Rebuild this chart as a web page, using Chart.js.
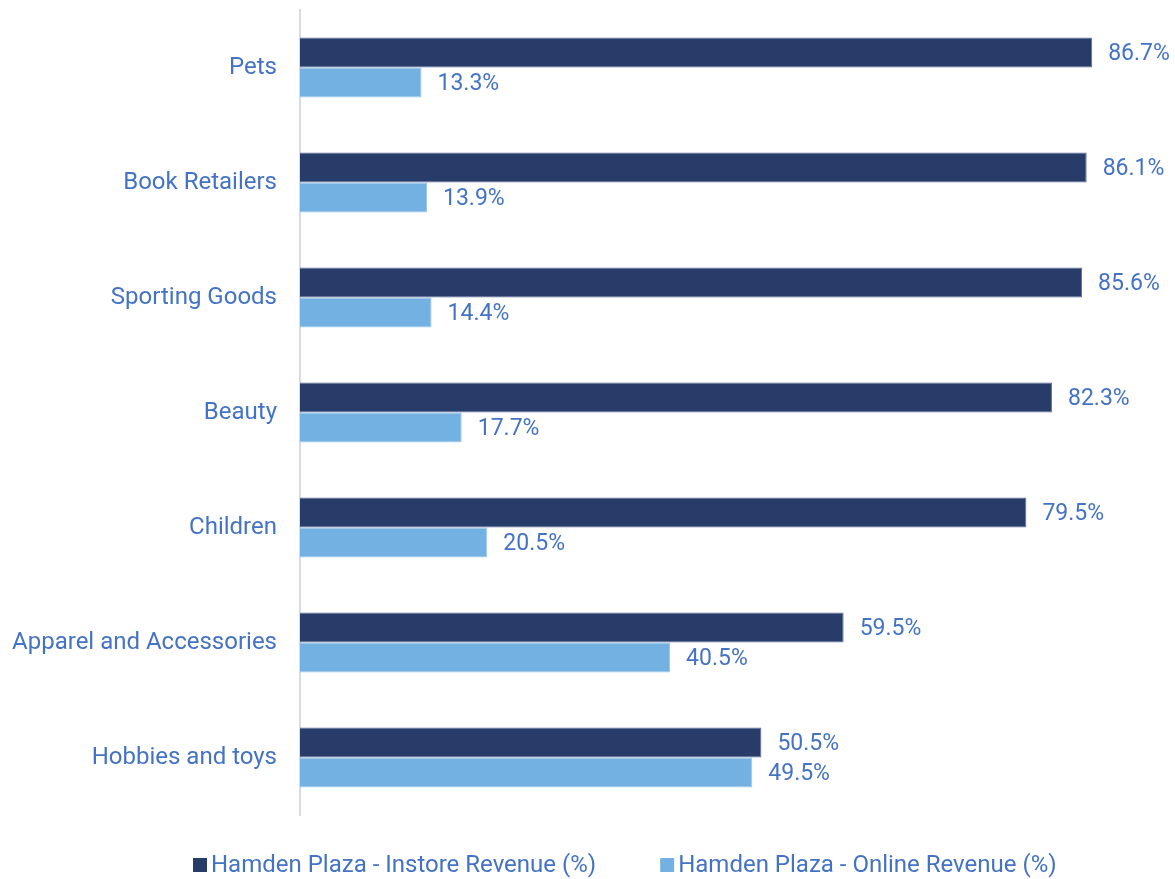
<!DOCTYPE html>
<html>
<head>
<meta charset="utf-8">
<script src="https://cdn.jsdelivr.net/npm/chart.js@4/dist/chart.umd.min.js"></script>
<style>
  html, body { margin: 0; padding: 0; background: #ffffff; }
  #wrap { width: 1175px; height: 879px; position: relative; }
</style>
</head>
<body>
<div id="wrap"><canvas id="c"></canvas></div>
<script>
const categories = ['Pets', 'Book Retailers', 'Sporting Goods', 'Beauty', 'Children', 'Apparel and Accessories', 'Hobbies and toys'];
const instoreRevenue = [86.7, 86.1, 85.6, 82.3, 79.5, 59.5, 50.5];
const onlineRevenue = [13.3, 13.9, 14.4, 17.7, 20.5, 40.5, 49.5];
const seriesNames = ['Hamden Plaza - Instore Revenue (%)', 'Hamden Plaza - Online Revenue (%)'];

const TEXT_COLOR = '#4472C4';
const FONT = 'Roboto, "Liberation Sans", sans-serif';

// Percent labels at the end of each bar
const valueLabels = {
  id: 'valueLabels',
  afterDatasetsDraw(chart) {
    const ctx = chart.ctx;
    ctx.save();
    ctx.font = '23px ' + FONT;
    ctx.fillStyle = TEXT_COLOR;
    ctx.textAlign = 'left';
    ctx.textBaseline = 'middle';
    chart.data.datasets.forEach((ds, i) => {
      chart.getDatasetMeta(i).data.forEach((bar, j) => {
        ctx.fillText(ds.data[j].toFixed(1) + '%', bar.x + 16, bar.y + 2);
      });
    });
    ctx.restore();
  }
};

// Legend row under the plot
const bottomLegend = {
  id: 'bottomLegend',
  afterDraw(chart) {
    const ctx = chart.ctx;
    ctx.save();
    ctx.font = '24px ' + FONT;
    ctx.textBaseline = 'middle';
    const box = 14, gapText = 4, gapItems = 64;
    let x = 193;
    const y = 865;
    chart.data.datasets.forEach(ds => {
      ctx.fillStyle = ds.backgroundColor;
      ctx.fillRect(x, y - box / 2, box, box);
      ctx.fillStyle = TEXT_COLOR;
      ctx.fillText(ds.label, x + box + gapText, y + 1);
      x += box + gapText + ctx.measureText(ds.label).width + gapItems;
    });
    ctx.restore();
  }
};

new Chart(document.getElementById('c'), {
  type: 'bar',
  data: {
    labels: categories,
    datasets: [
      {
        label: seriesNames[0],
        data: instoreRevenue,
        backgroundColor: '#283C6A',
        borderColor: '#5B6E98',
        borderWidth: 1,
        categoryPercentage: 0.522,
        barPercentage: 1.0
      },
      {
        label: seriesNames[1],
        data: onlineRevenue,
        backgroundColor: '#74B1E3',
        borderColor: '#9CC8EC',
        borderWidth: 1,
        categoryPercentage: 0.522,
        barPercentage: 1.0
      }
    ]
  },
  options: {
    indexAxis: 'y',
    responsive: true,
    maintainAspectRatio: false,
    animation: false,
    layout: { padding: { top: 10, bottom: 64, right: 7, left: 0 } },
    plugins: {
      legend: { display: false },
      tooltip: { enabled: false }
    },
    scales: {
      x: {
        display: false,
        min: 0,
        max: 95
      },
      y: {
        afterFit(scale) {
          scale.width = 300;
          scale.paddingTop = 0;
          scale.paddingBottom = 0;
        },
        grid: { display: false, drawTicks: false },
        border: { display: true, color: '#D3DBEE', width: 2 },
        ticks: {
          color: TEXT_COLOR,
          font: { family: FONT, size: 24 },
          padding: 23
        }
      }
    }
  },
  plugins: [valueLabels, bottomLegend]
});
</script>
</body>
</html>
